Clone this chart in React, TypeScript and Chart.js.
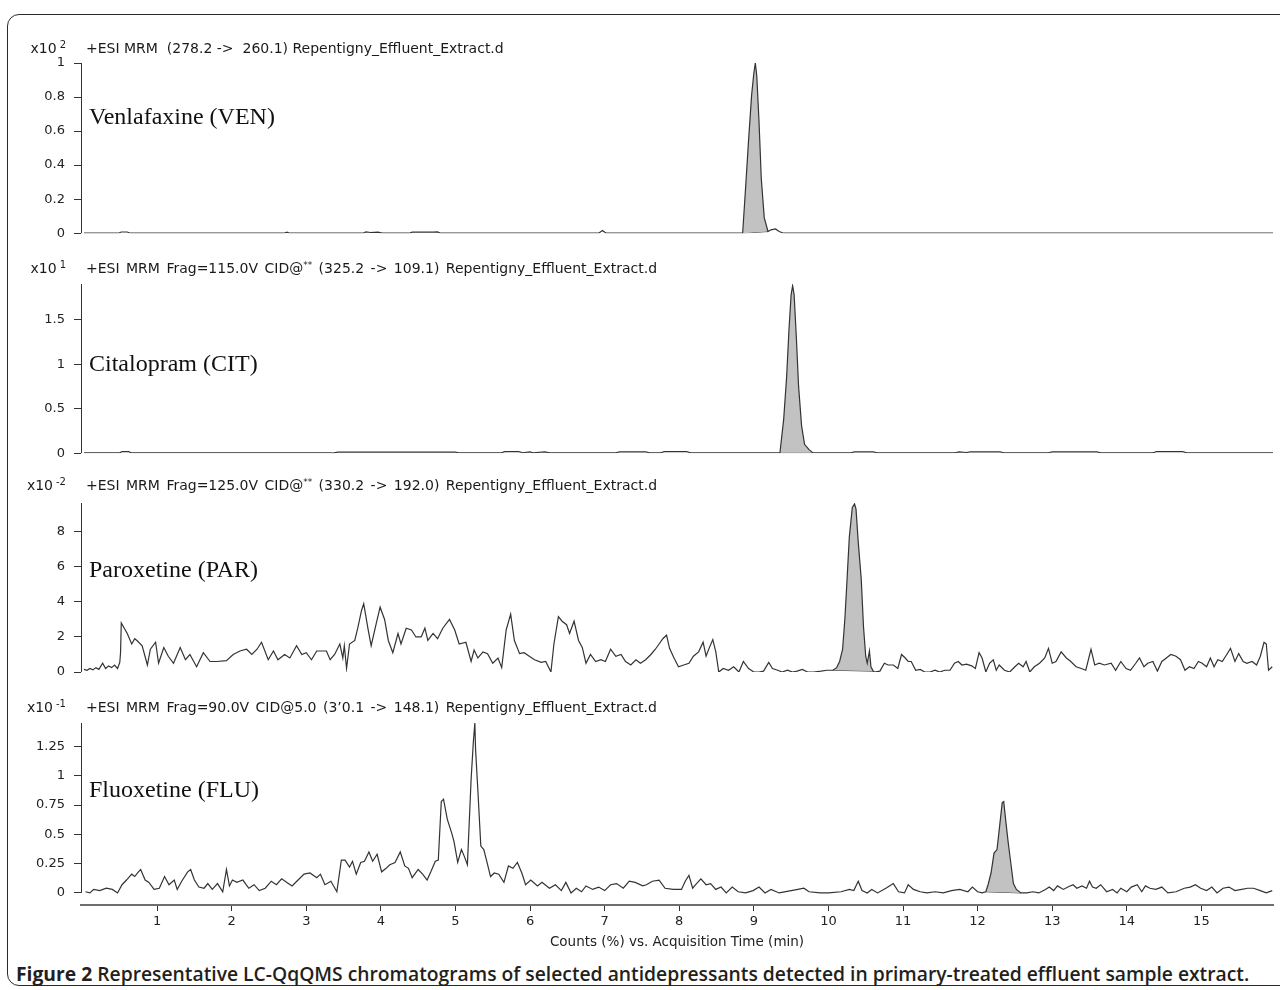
import React, { useEffect, useRef } from "react";
import { Chart, registerables } from "chart.js";

Chart.register(...registerables);

// ---------------- data ----------------
const timeTicks = [1, 2, 3, 4, 5, 6, 7, 8, 9, 10, 11, 12, 13, 14, 15];
const X_MIN = -0.02;
const X_MAX = 15.96;

// Venlafaxine, units x10^2
const venTrace: [number, number][] = [
  [0.02, 0], [0.48, 0], [0.52, 0.007], [0.6, 0.007], [0.64, 0], [2.7, 0], [2.74, 0.006], [2.78, 0],
  [3.76, 0], [3.8, 0.008], [3.86, 0.004], [3.96, 0.006], [4.02, 0], [4.38, 0], [4.42, 0.006],
  [4.7, 0.006], [4.76, 0.008], [4.8, 0], [6.92, 0], [6.97, 0.016], [7.02, 0],
  [8.85, 0], [8.89, 0.27], [8.93, 0.55], [8.97, 0.81], [9.0, 0.94], [9.02, 1.0], [9.04, 0.92],
  [9.07, 0.65], [9.1, 0.32], [9.14, 0.09], [9.19, 0.01], [9.23, 0.02], [9.29, 0.025], [9.34, 0.01],
  [9.4, 0], [15.96, 0],
];
const venPeakWindow = [8.85, 9.19];
const venTicks = [0, 0.2, 0.4, 0.6, 0.8, 1];

// Citalopram, units x10^1
const citTrace: [number, number][] = [
  [0.02, 0.005], [0.5, 0.005], [0.53, 0.018], [0.62, 0.018], [0.65, 0.005], [3.33, 0.005], [3.36, 0],
  [3.42, 0.012], [5.0, 0.012], [5.04, 0.005], [5.62, 0.005], [5.66, 0.018], [5.85, 0.018], [5.9, 0.005],
  [6.0, 0.015], [6.04, 0.005], [6.2, 0.015], [6.26, 0.005], [7.15, 0.005], [7.2, 0.015], [7.55, 0.015],
  [7.6, 0.005], [7.75, 0.005], [7.8, 0.018], [8.1, 0.018], [8.15, 0.005],
  [9.35, 0.005], [9.4, 0.38], [9.44, 0.86], [9.47, 1.37], [9.5, 1.78], [9.52, 1.88], [9.54, 1.78],
  [9.57, 1.3], [9.6, 0.75], [9.64, 0.31], [9.68, 0.1], [9.74, 0.04], [9.79, 0.005],
  [10.3, 0.005], [10.35, 0.015], [10.6, 0.015], [10.65, 0.005], [11.7, 0.005], [11.75, 0.015],
  [11.85, 0.008], [11.9, 0.015], [12.3, 0.015], [12.35, 0.005], [12.95, 0.005], [13.0, 0.015],
  [13.6, 0.015], [13.65, 0.005], [14.35, 0.005], [14.4, 0.018], [14.75, 0.018], [14.8, 0.005],
  [15.96, 0.005],
];
const citPeakWindow = [9.35, 9.79];
const citTicks = [0, 0.5, 1, 1.5];

// Paroxetine, units x10^-2
const parTrace: [number, number][] = [
  [0.02, 0.15], [0.06, 0.1], [0.1, 0.2], [0.14, 0.12], [0.18, 0.25], [0.22, 0.15], [0.27, 0.5],
  [0.31, 0.2], [0.35, 0.35], [0.39, 0.25], [0.43, 0.4], [0.47, 0.2], [0.5, 0.55], [0.51, 1.1],
  [0.52, 2.8], [0.56, 2.5], [0.6, 2.2], [0.66, 1.6], [0.7, 1.9], [0.73, 1.8], [0.8, 1.5], [0.87, 0.4],
  [0.91, 1.3], [0.98, 1.7], [1.02, 0.5], [1.09, 1.4], [1.15, 0.9], [1.22, 0.5], [1.31, 1.4],
  [1.38, 0.7], [1.44, 1.0], [1.53, 0.3], [1.62, 1.1], [1.71, 0.6], [1.8, 0.6], [1.93, 0.65],
  [2.02, 1.0], [2.11, 1.2], [2.2, 1.3], [2.27, 1.0], [2.34, 1.3], [2.4, 1.7], [2.49, 0.7],
  [2.56, 1.2], [2.62, 0.7], [2.71, 1.0], [2.78, 0.8], [2.87, 1.5], [2.94, 1.0], [3.0, 1.1],
  [3.07, 0.7], [3.14, 1.2], [3.27, 1.2], [3.32, 0.7], [3.38, 1.0], [3.45, 1.6], [3.49, 0.8],
  [3.51, 1.5], [3.54, 0.2], [3.58, 1.6], [3.65, 1.8], [3.69, 2.5], [3.74, 3.5], [3.77, 3.9],
  [3.83, 2.4], [3.87, 1.5], [3.94, 2.8], [3.99, 3.7], [4.05, 3.0], [4.1, 1.8], [4.16, 1.1],
  [4.23, 2.2], [4.27, 1.6], [4.34, 2.5], [4.41, 2.4], [4.47, 2.0], [4.54, 2.0], [4.59, 2.5],
  [4.63, 1.8], [4.7, 2.2], [4.76, 1.9], [4.83, 2.5], [4.92, 3.0], [4.99, 2.4], [5.05, 1.6],
  [5.14, 1.7], [5.21, 0.6], [5.25, 1.25], [5.3, 0.8], [5.37, 1.15], [5.43, 1.05], [5.5, 0.5],
  [5.57, 0.8], [5.62, 0.25], [5.68, 2.4], [5.74, 3.3], [5.79, 1.8], [5.86, 1.05], [5.92, 1.1],
  [5.99, 0.9], [6.06, 0.7], [6.15, 0.55], [6.21, 0.6], [6.28, 0.0], [6.32, 1.6], [6.38, 3.16],
  [6.43, 2.9], [6.49, 2.7], [6.53, 2.2], [6.59, 2.9], [6.65, 1.8], [6.7, 1.4], [6.75, 0.5],
  [6.81, 1.0], [6.88, 0.6], [6.95, 0.7], [7.01, 0.6], [7.08, 1.3], [7.15, 0.9], [7.22, 1.0],
  [7.28, 0.6], [7.35, 0.4], [7.42, 0.7], [7.48, 0.5], [7.55, 0.7], [7.62, 1.0], [7.68, 1.3],
  [7.73, 1.6], [7.78, 1.9], [7.83, 2.1], [7.87, 1.35], [7.93, 0.8], [7.99, 0.3], [8.06, 0.4],
  [8.13, 0.5], [8.19, 0.9], [8.26, 1.15], [8.32, 1.7], [8.36, 0.9], [8.4, 1.35], [8.45, 1.85],
  [8.49, 1.15], [8.53, 0.0], [8.59, 0.2], [8.66, 0.1], [8.73, 0.3], [8.8, 0.0], [8.86, 0.6],
  [8.93, 0.2], [9.0, 0.0], [9.07, 0.0], [9.13, 0.05], [9.2, 0.55], [9.25, 0.2], [9.32, 0.1],
  [9.38, 0.0], [9.45, 0.1], [9.52, 0.0], [9.58, 0.05], [9.65, 0.15], [9.72, 0.0], [9.8, 0.0],
  [9.9, 0.05], [9.98, 0.1],
  [10.06, 0.1], [10.11, 0.25], [10.15, 0.6], [10.19, 1.3], [10.22, 3.0], [10.25, 5.3], [10.28, 7.7],
  [10.32, 9.4], [10.35, 9.6], [10.37, 9.3], [10.4, 7.4], [10.44, 5.3], [10.47, 2.6], [10.5, 0.9],
  [10.52, 0.5], [10.55, 1.2], [10.57, 0.3], [10.6, 0.05],
  [10.62, 0.0], [10.69, 0.05], [10.75, 0.5], [10.8, 0.4], [10.87, 0.4], [10.93, 0.2], [10.98, 1.0],
  [11.03, 0.8], [11.07, 0.6], [11.11, 0.6], [11.17, 0.1], [11.23, 0.15], [11.29, 0.0], [11.36, 0.0],
  [11.43, 0.1], [11.49, 0.0], [11.56, 0.1], [11.63, 0.1], [11.69, 0.5], [11.74, 0.6], [11.79, 0.4],
  [11.85, 0.45], [11.92, 0.35], [11.97, 0.2], [12.02, 1.1], [12.06, 0.8], [12.11, 0.0], [12.16, 0.5],
  [12.21, 0.7], [12.25, 0.1], [12.29, 0.4], [12.36, 0.1], [12.43, 0.0], [12.5, 0.3], [12.55, 0.5],
  [12.61, 0.3], [12.65, 0.6], [12.7, 0.0], [12.76, 0.3], [12.83, 0.5], [12.9, 0.8], [12.95, 1.35],
  [13.0, 0.5], [13.05, 0.6], [13.12, 1.15], [13.19, 0.8], [13.25, 0.6], [13.32, 0.3], [13.39, 0.2],
  [13.45, 0.1], [13.52, 1.3], [13.57, 0.4], [13.63, 0.5], [13.7, 0.4], [13.79, 0.5], [13.85, 0.1],
  [13.92, 0.6], [13.99, 0.2], [14.05, 0.1], [14.12, 0.5], [14.17, 0.8], [14.23, 0.3], [14.28, 0.5],
  [14.35, 0.6], [14.41, 0.05], [14.47, 0.6], [14.53, 0.8], [14.59, 1.0], [14.66, 0.9], [14.72, 0.7],
  [14.78, 0.1], [14.84, 0.3], [14.9, 0.2], [14.96, 0.6], [15.01, 0.5], [15.07, 0.3], [15.12, 0.8],
  [15.17, 0.3], [15.22, 0.7], [15.28, 0.6], [15.34, 1.0], [15.39, 1.35], [15.45, 0.6], [15.5, 1.05],
  [15.56, 0.6], [15.61, 0.5], [15.68, 0.6], [15.74, 0.4], [15.79, 0.9], [15.84, 1.7], [15.87, 1.6],
  [15.9, 0.1], [15.95, 0.3],
];
const parPeakWindow = [10.06, 10.6];
const parTicks = [0, 2, 4, 6, 8];

// Fluoxetine, units x10^-1
const fluTrace: [number, number][] = [
  [0.04, 0.01], [0.1, 0.0], [0.15, 0.03], [0.23, 0.02], [0.32, 0.04], [0.4, 0.03], [0.47, 0.0],
  [0.53, 0.07], [0.59, 0.11], [0.66, 0.16], [0.7, 0.14], [0.75, 0.18], [0.78, 0.2], [0.84, 0.11],
  [0.89, 0.09], [0.96, 0.03], [1.03, 0.04], [1.1, 0.14], [1.16, 0.07], [1.23, 0.11], [1.27, 0.03],
  [1.33, 0.1], [1.41, 0.18], [1.45, 0.2], [1.5, 0.11], [1.56, 0.05], [1.63, 0.04], [1.68, 0.08],
  [1.74, 0.03], [1.81, 0.08], [1.88, 0.01], [1.93, 0.2], [1.97, 0.06], [2.01, 0.11], [2.07, 0.09],
  [2.15, 0.11], [2.23, 0.04], [2.3, 0.07], [2.37, 0.02], [2.45, 0.04], [2.53, 0.1], [2.6, 0.07],
  [2.67, 0.12], [2.74, 0.09], [2.81, 0.06], [2.89, 0.11], [2.97, 0.16], [3.05, 0.17], [3.14, 0.13],
  [3.19, 0.16], [3.25, 0.07], [3.33, 0.1], [3.41, 0.01], [3.47, 0.28], [3.52, 0.28], [3.58, 0.22],
  [3.62, 0.27], [3.67, 0.16], [3.73, 0.26], [3.78, 0.27], [3.84, 0.35], [3.89, 0.27], [3.95, 0.33],
  [4.01, 0.18], [4.07, 0.21], [4.12, 0.24], [4.19, 0.26], [4.26, 0.35], [4.32, 0.23], [4.37, 0.21],
  [4.42, 0.13], [4.5, 0.2], [4.56, 0.16], [4.62, 0.11], [4.67, 0.18], [4.73, 0.27], [4.77, 0.28],
  [4.81, 0.78], [4.84, 0.8], [4.89, 0.63], [4.95, 0.51], [4.98, 0.44], [5.03, 0.26], [5.08, 0.37],
  [5.12, 0.31], [5.16, 0.24], [5.21, 0.97], [5.24, 1.29], [5.26, 1.45], [5.27, 1.22], [5.3, 0.88],
  [5.34, 0.4], [5.38, 0.37], [5.42, 0.27], [5.47, 0.14], [5.52, 0.17], [5.58, 0.16], [5.65, 0.09],
  [5.71, 0.23], [5.77, 0.21], [5.83, 0.26], [5.89, 0.17], [5.94, 0.07], [6.01, 0.11], [6.1, 0.06],
  [6.16, 0.09], [6.26, 0.04], [6.34, 0.07], [6.42, 0.02], [6.48, 0.09], [6.55, 0.0], [6.62, 0.04],
  [6.69, 0.01], [6.75, 0.06], [6.84, 0.03], [6.92, 0.05], [7.0, 0.02], [7.08, 0.07], [7.16, 0.08],
  [7.25, 0.04], [7.33, 0.1], [7.41, 0.09], [7.51, 0.06], [7.56, 0.07], [7.64, 0.1], [7.73, 0.11],
  [7.81, 0.04], [7.92, 0.03], [8.03, 0.03], [8.08, 0.1], [8.13, 0.15], [8.18, 0.04], [8.22, 0.07],
  [8.29, 0.12], [8.36, 0.07], [8.42, 0.08], [8.49, 0.03], [8.56, 0.05], [8.63, 0.0], [8.71, 0.05],
  [8.79, 0.01], [8.89, 0.0], [8.99, 0.02], [9.07, 0.05], [9.15, 0.0], [9.23, 0.03], [9.34, 0.0],
  [9.5, 0.02], [9.59, 0.03], [9.67, 0.04], [9.74, 0.01], [9.89, 0.0], [10.0, 0.0], [10.17, 0.01],
  [10.28, 0.03], [10.34, 0.02], [10.4, 0.1], [10.45, 0.02], [10.52, 0.0], [10.58, 0.03], [10.66, 0.0],
  [10.77, 0.04], [10.87, 0.08], [10.94, 0.01], [11.02, 0.0], [11.07, 0.07], [11.14, 0.03],
  [11.23, 0.01], [11.32, 0.0], [11.43, 0.01], [11.54, 0.0], [11.65, 0.02], [11.76, 0.03],
  [11.87, 0.01], [11.93, 0.05], [12.0, 0.01], [12.06, 0.0],
  [12.11, 0.01], [12.14, 0.07], [12.18, 0.17], [12.22, 0.34], [12.26, 0.37], [12.29, 0.54],
  [12.33, 0.77], [12.35, 0.78], [12.38, 0.6], [12.41, 0.43], [12.45, 0.23], [12.48, 0.08],
  [12.52, 0.03], [12.58, 0.0],
  [12.66, 0.0], [12.74, 0.01], [12.82, 0.0], [12.91, 0.03], [12.96, 0.05], [13.02, 0.02],
  [13.07, 0.06], [13.15, 0.03], [13.21, 0.05], [13.28, 0.07], [13.33, 0.04], [13.4, 0.06],
  [13.46, 0.04], [13.5, 0.1], [13.54, 0.05], [13.59, 0.04], [13.65, 0.07], [13.73, 0.01],
  [13.81, 0.03], [13.87, 0.0], [13.92, 0.04], [14.0, 0.01], [14.06, 0.05], [14.14, 0.07],
  [14.2, 0.01], [14.25, 0.06], [14.31, 0.04], [14.39, 0.03], [14.47, 0.05], [14.55, 0.0],
  [14.66, 0.01], [14.77, 0.04], [14.85, 0.05], [14.92, 0.07], [14.99, 0.04], [15.07, 0.02],
  [15.14, 0.05], [15.21, 0.0], [15.29, 0.04], [15.37, 0.05], [15.45, 0.02], [15.54, 0.03],
  [15.62, 0.04], [15.7, 0.04], [15.79, 0.02], [15.87, 0.0], [15.95, 0.02],
];
const fluPeakWindow = [12.11, 12.58];
const fluTicks = [0, 0.25, 0.5, 0.75, 1, 1.25];

const xTitle = "Counts (%) vs. Acquisition Time (min)";

// ---------------- styling ----------------
const TICK_FONT = "'DejaVu Sans', 'Liberation Sans', sans-serif";
const LINE = "#333333";

const yAxisLine = {
  id: "yAxisLine",
  afterDraw(chart: any) {
    const { ctx, chartArea } = chart;
    const y = chart.scales.y;
    const y0 = y.getPixelForValue(0);
    ctx.save();
    ctx.strokeStyle = LINE;
    ctx.lineWidth = 1;
    ctx.beginPath();
    ctx.moveTo(chartArea.left + 0.5, y0);
    ctx.lineTo(chartArea.left + 0.5, chartArea.top);
    ctx.stroke();
    ctx.restore();
  },
};

type PanelProps = {
  trace: [number, number][];
  peak: number[];
  yMin: number;
  yMax: number;
  yTicks: number[];
  top: number;
  height: number;
  padTop: number;
  padBottom: number;
  showX: boolean;
};

function Panel(p: PanelProps) {
  const ref = useRef<HTMLCanvasElement>(null);
  useEffect(() => {
    const pts = p.trace.map(([x, y]) => ({ x, y }));
    const peakPts = pts.filter((d) => d.x >= p.peak[0] && d.x <= p.peak[1]);
    const basePts = [peakPts[0], peakPts[peakPts.length - 1]];
    const chart = new Chart(ref.current as HTMLCanvasElement, {
      type: "line",
      data: {
        datasets: [
          {
            data: pts,
            borderColor: LINE,
            borderWidth: 1.2,
            pointRadius: 0,
            fill: false,
            tension: 0,
            order: 0,
          },
          {
            data: peakPts,
            borderColor: "rgba(0,0,0,0)",
            borderWidth: 0,
            backgroundColor: "#c2c2c2",
            pointRadius: 0,
            fill: "+1",
            tension: 0,
            order: 1,
          },
          {
            data: basePts,
            borderColor: LINE,
            borderWidth: 1,
            pointRadius: 0,
            fill: false,
            order: 2,
          },
        ],
      },
      options: {
        animation: false,
        responsive: false,
        events: [],
        layout: { padding: { left: 0, right: 7, top: p.padTop, bottom: p.padBottom } },
        plugins: {
          legend: { display: false },
          tooltip: { enabled: false },
          title: { display: false },
        },
        scales: {
          x: {
            type: "linear",
            min: X_MIN,
            max: X_MAX,
            display: p.showX,
            afterBuildTicks: (s: any) => {
              s.ticks = timeTicks.map((v) => ({ value: v }));
            },
            afterFit: (s: any) => {
              s.height = p.showX ? 50 : 0;
            },
            border: { display: true, color: "#6e6e6e", width: 2 },
            grid: {
              display: true,
              drawOnChartArea: false,
              drawTicks: true,
              tickLength: 6,
              color: LINE,
              lineWidth: 1,
            },
            ticks: {
              color: "#222",
              font: { family: TICK_FONT, size: 13 },
              padding: 3,
              maxRotation: 0,
              autoSkip: false,
              callback: (v: any) => String(v),
            },
            title: {
              display: true,
              text: xTitle,
              color: "#222",
              font: { family: TICK_FONT, size: 13.5 },
              padding: { top: 4, bottom: 4 },
            },
          },
          y: {
            type: "linear",
            min: p.yMin,
            max: p.yMax,
            afterBuildTicks: (s: any) => {
              s.ticks = p.yTicks.map((v) => ({ value: v }));
            },
            afterFit: (s: any) => {
              s.width = 81;
            },
            border: { display: false },
            grid: {
              display: true,
              drawOnChartArea: false,
              drawTicks: true,
              tickLength: 7,
              color: LINE,
              lineWidth: 1,
            },
            ticks: {
              color: "#222",
              font: { family: TICK_FONT, size: 13 },
              padding: 9,
              autoSkip: false,
              callback: (v: any) => String(v),
            },
          },
        },
      } as any,
      plugins: [yAxisLine],
    });
    return () => chart.destroy();
  }, []);
  return (
    <canvas
      ref={ref}
      width={1280}
      height={p.height}
      style={{ position: "absolute", left: 0, top: p.top, width: 1280, height: p.height }}
    />
  );
}

const HEADER_FONT = "14px 'DejaVu Sans', 'Liberation Sans', sans-serif";

function Header(props: { top: number; exp: string; ws?: number; children: React.ReactNode }) {
  return (
    <>
      <div
        style={{
          position: "absolute",
          left: 0,
          width: 66,
          top: props.top,
          textAlign: "right",
          font: HEADER_FONT,
          lineHeight: "14px",
          color: "#1a1a1a",
          whiteSpace: "pre",
        }}
      >
        x10
        <span style={{ fontSize: 10, position: "relative", top: -5, marginLeft: 3 }}>{props.exp}</span>
      </div>
      <div
        style={{
          position: "absolute",
          left: 86,
          top: props.top,
          font: HEADER_FONT,
          lineHeight: "14px",
          color: "#1a1a1a",
          whiteSpace: "pre",
          wordSpacing: props.ws || 0,
        }}
      >
        {props.children}
      </div>
    </>
  );
}

const Sup = (props: { children: React.ReactNode }) => (
  <span style={{ fontSize: 9, position: "relative", top: -5 }}>{props.children}</span>
);

function Label(props: { top: number; text: string }) {
  return (
    <div
      style={{
        position: "absolute",
        left: 89,
        top: props.top,
        font: "24px 'Liberation Serif', 'Times New Roman', serif",
        lineHeight: "24px",
        color: "#111",
        whiteSpace: "pre",
      }}
    >
      {props.text}
    </div>
  );
}

export default function App() {
  return (
    <div
      style={{
        position: "absolute",
        left: 0,
        top: 0,
        width: 1280,
        height: 990,
        background: "#fff",
        overflow: "hidden",
      }}
    >
      <div
        style={{
          position: "absolute",
          left: 7,
          top: 14,
          width: 1285,
          height: 972,
          border: "1.5px solid #2a2a2a",
          borderRadius: 12,
          boxSizing: "border-box",
        }}
      />
      <Panel trace={venTrace} peak={venPeakWindow} yMin={0} yMax={1.0} yTicks={venTicks}
        top={30} height={220} padTop={33} padBottom={14} showX={false} />
      <Panel trace={citTrace} peak={citPeakWindow} yMin={0} yMax={1.9} yTicks={citTicks}
        top={250} height={220} padTop={34} padBottom={14} showX={false} />
      <Panel trace={parTrace} peak={parPeakWindow} yMin={0} yMax={9.65} yTicks={parTicks}
        top={470} height={220} padTop={33} padBottom={18} showX={false} />
      <Panel trace={fluTrace} peak={fluPeakWindow} yMin={-0.103} yMax={1.45} yTicks={fluTicks}
        top={690} height={265} padTop={33} padBottom={0} showX={true} />

      <Header top={41} exp="2">{"+ESI MRM  (278.2 ->  260.1) Repentigny_Effluent_Extract.d"}</Header>
      <Header top={261} exp="1" ws={2}>
        {"+ESI MRM Frag=115.0V CID@"}<Sup>**</Sup>{" (325.2 -> 109.1) Repentigny_Effluent_Extract.d"}
      </Header>
      <Header top={478} exp="-2" ws={2}>
        {"+ESI MRM Frag=125.0V CID@"}<Sup>**</Sup>{" (330.2 -> 192.0) Repentigny_Effluent_Extract.d"}
      </Header>
      <Header top={700} exp="-1" ws={2}>
        {"+ESI MRM Frag=90.0V CID@5.0 (3\u20190.1 -> 148.1) Repentigny_Effluent_Extract.d"}
      </Header>

      <Label top={104} text="Venlafaxine (VEN)" />
      <Label top={351} text="Citalopram (CIT)" />
      <Label top={557} text="Paroxetine (PAR)" />
      <Label top={777} text="Fluoxetine (FLU)" />

      <div
        style={{
          position: "absolute",
          left: 16,
          top: 964,
          font: "600 19.3px 'Open Sans', 'Noto Sans', sans-serif",
          lineHeight: "20px",
          color: "#231f20",
          whiteSpace: "pre",
        }}
      >
        <span style={{ fontWeight: 700 }}>Figure 2</span>
        {" Representative LC-QqQMS chromatograms of selected antidepressants detected in primary-treated effluent sample extract."}
      </div>
    </div>
  );
}
